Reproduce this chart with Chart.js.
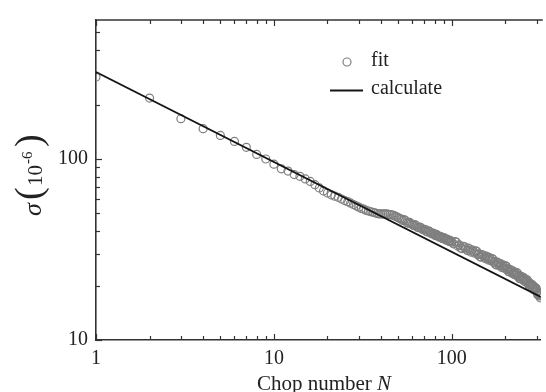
<!DOCTYPE html>
<html><head><meta charset="utf-8">
<script src="https://cdn.jsdelivr.net/npm/chart.js@4/dist/chart.umd.min.js"></script>
<style>
html,body{margin:0;padding:0;background:#fff;overflow:hidden;width:546px;height:392px}
#wrap{position:relative;width:546px;height:392px}
</style></head>
<body><div id="wrap"><canvas id="c"></canvas></div>
<script>
// ---- data ----
const chopN = [1,2,3,4,5,6,7,8,9,10,11,12,13,14,15,16,17,18,19,20,21,22,23,24,25,26,27,28,29,30,
  31,32,33,34,35,36,37,38,39,40,41,42,43,44,45,46,47,48,49,50,
  52,54,56,58,60,62,64,66,68,70,72,74,76,78,80,82,84,86,88,90,92,94,96,98,100,
  104,108,112,116,120,124,128,132,136,140,144,148,152,156,160,164,168,172,176,180,184,188,192,196,200,
  204,208,212,216,220,224,228,232,236,240,244,248,252,256,260,264,268,272,276,280,284,288,292,296,300,
  304,308,312,316,
  51,53,55,57,59,61,63,65,67,69,71,73,75,77,79,81,83,85,87,89,91,93,95,97,99,
  102,106,110,114,118,122,126,130,134,138,142,146,150,154,158,162,166,170,174,178,182,186,190,194,198,
  202,206,210,214,218,222,226,230,234,238,242,246,250,254,258,262,266,270,274,278,282,286,290,294,298,
  302,306,310,314];
const fitSigma = [284,217,167,147,135,125,116,106,100,93.6,88.3,85.8,82,80.2,77.6,75.2,72.1,69.2,66.6,64.9,
  63.4,62.3,61.4,60.1,58.9,58.1,57.0,56.0,55.1,54.2,53.3,52.8,52.0,51.6,51.1,50.8,50.4,50.0,49.7,49.7,
  49.7,49.8,49.8,49.5,49.3,49.1,48.9,48.3,47.9,47.4,
  46.5,46.2,44.5,44.6,43.3,43.4,42.0,42.1,41.0,40.9,39.8,40.1,39.0,39.0,38.1,38.3,37.4,37.4,36.5,36.8,36.0,36.1,35.2,35.5,34.7,
  35.0,33.1,32.2,32.9,31.9,32.2,30.6,30.9,31.1,29.6,28.8,29.6,28.7,29.1,27.7,28.1,28.2,26.8,26.2,26.9,26.0,26.4,25.1,25.5,25.7,
  24.5,23.9,24.5,23.8,24.1,23.0,23.3,23.5,22.4,21.9,22.5,21.9,22.2,21.1,21.4,21.5,20.5,20.0,20.5,20.0,20.2,19.1,19.3,19.4,18.4,
  17.8,18.2,17.5,17.6,
  46.9,45.8,45.6,44.2,44.0,42.9,42.9,41.7,41.8,40.6,40.7,39.5,39.7,38.6,38.8,37.7,37.9,37.0,37.1,36.3,36.5,35.6,35.8,35.0,35.1,
  34.0,34.7,33.5,32.0,32.7,31.2,31.4,31.5,30.2,30.9,29.9,28.7,29.4,28.2,28.4,28.6,27.4,28.0,27.2,26.0,26.7,25.6,25.8,26.0,24.9,
  25.6,24.8,23.8,24.4,23.4,23.5,23.7,22.8,23.4,22.7,21.8,22.4,21.5,21.6,21.8,20.9,21.4,20.8,19.9,20.4,19.6,19.6,19.7,18.8,19.3,
  18.6,17.7,18.0,17.1];
const calcN = [1, 316.2];
const calcSigma = [302, 17.3];
const xTickValues = [1,2,3,4,5,6,7,8,9,10,20,30,40,50,60,70,80,90,100,200,300];
const xTickLabels = [1,10,100];
const yTickValues = [10,20,30,40,50,60,70,80,90,100,200,300,400,500];
const yTickLabels = [10,100];
const xRange = [1, 316.2];
const yRange = [10, 586];

const SERIF = '"Liberation Serif","DejaVu Serif",serif';
const TXT = '#222';
const AX = '#333';

const fitPoints = chopN.map((n,i)=>({x:n, y:fitSigma[i]}));
const calcPoints = calcN.map((n,i)=>({x:n, y:calcSigma[i]}));

const decor = {
  id:'decor',
  afterDraw(chart){
    const {ctx, chartArea:a, scales:{x,y}} = chart;
    ctx.save();
    ctx.strokeStyle = AX; ctx.lineWidth = 1.2;
    const ln=(x1,y1,x2,y2)=>{ctx.beginPath();ctx.moveTo(x1,y1);ctx.lineTo(x2,y2);ctx.stroke();};
    xTickValues.forEach(v=>{
      const px = Math.round(x.getPixelForValue(v))+0.5;
      const L = xTickLabels.includes(v)?6:4;
      ln(px,a.bottom,px,a.bottom-L);
      ln(px,a.top,px,a.top+L);
    });
    yTickValues.forEach(v=>{
      const py = Math.round(y.getPixelForValue(v))+0.5;
      const L = yTickLabels.includes(v)?6:4;
      ln(a.left,py,a.left+L,py);
    });
    ctx.lineWidth = 1.6;
    ln(a.left, a.top, a.right+2, a.top);
    // legend
    const dsFit = chart.data.datasets[1], dsCalc = chart.data.datasets[0];
    ctx.strokeStyle = dsFit.pointBorderColor; ctx.lineWidth = 1.2;
    ctx.beginPath(); ctx.arc(347, 62, 4, 0, Math.PI*2); ctx.stroke();
    ctx.strokeStyle = dsCalc.borderColor; ctx.lineWidth = dsCalc.borderWidth;
    ln(330, 90.5, 363, 90.5);
    ctx.fillStyle = TXT; ctx.font = '20px '+SERIF; ctx.textBaseline='middle'; ctx.textAlign='left';
    ctx.fillText(dsFit.label, 371, 61);
    ctx.fillText(dsCalc.label, 371, 89);
    // x title
    ctx.textBaseline='alphabetic';
    ctx.font = '21px '+SERIF;
    const t1 = 'Chop number ';
    const w1 = ctx.measureText(t1).width;
    ctx.font = 'italic 21px '+SERIF;
    const w2 = ctx.measureText('N').width;
    const sx = 324 - (w1+w2)/2;
    ctx.font = '21px '+SERIF; ctx.fillText(t1, sx, 390);
    ctx.font = 'italic 21px '+SERIF; ctx.fillText('N', sx+w1, 390);
    // y title (rotated)
    ctx.translate(42, 216); ctx.rotate(-Math.PI/2);
    ctx.font = 'italic 26px '+SERIF; ctx.fillText('σ', 0, -1);
    ctx.font = '38px '+SERIF; ctx.fillText('(', 16, -1);
    ctx.font = '21px '+SERIF; ctx.fillText('10', 30, 0);
    ctx.font = '15px '+SERIF; ctx.fillText('-6', 52, -10);
    ctx.font = '38px '+SERIF; ctx.fillText(')', 69, -1);
    ctx.restore();
  }
};

new Chart(document.getElementById('c'), {
  type:'scatter',
  data:{datasets:[
    {label:'calculate', type:'line', data:calcPoints, showLine:true, borderColor:'#141414', borderWidth:1.8, pointRadius:0, fill:false},
    {label:'fit', data:fitPoints, showLine:false, pointRadius:4, pointBorderWidth:1.2, pointBorderColor:'#7f7f7f', pointBackgroundColor:'rgba(0,0,0,0)', borderColor:'#7f7f7f', backgroundColor:'rgba(0,0,0,0)'}
  ]},
  options:{
    responsive:true, maintainAspectRatio:false, animation:false,
    layout:{padding:{top:13,right:0,left:0,bottom:0}},
    plugins:{legend:{display:false}, tooltip:{enabled:false}},
    scales:{
      x:{type:'logarithmic', min:xRange[0], max:xRange[1], position:'bottom',
        afterBuildTicks:(s)=>{s.ticks = xTickValues.map(v=>({value:v}));},
        afterFit:(s)=>{s.height=52;},
        grid:{display:false, drawTicks:false},
        border:{display:true, color:AX, width:1.6},
        ticks:{autoSkip:false, maxRotation:0, padding:7, color:TXT, font:{family:SERIF, size:20},
          callback:(v)=> xTickLabels.includes(v)? String(v): ''}
      },
      y:{type:'logarithmic', min:yRange[0], max:yRange[1],
        afterBuildTicks:(s)=>{s.ticks = yTickValues.map(v=>({value:v}));},
        afterFit:(s)=>{s.width=96;},
        grid:{display:false, drawTicks:false},
        border:{display:true, color:AX, width:1.6},
        ticks:{autoSkip:false, padding:8, color:TXT, font:{family:SERIF, size:20},
          callback:(v)=> yTickLabels.includes(v)? String(v): ''}
      }
    }
  },
  plugins:[decor]
});
</script>
</body></html>
